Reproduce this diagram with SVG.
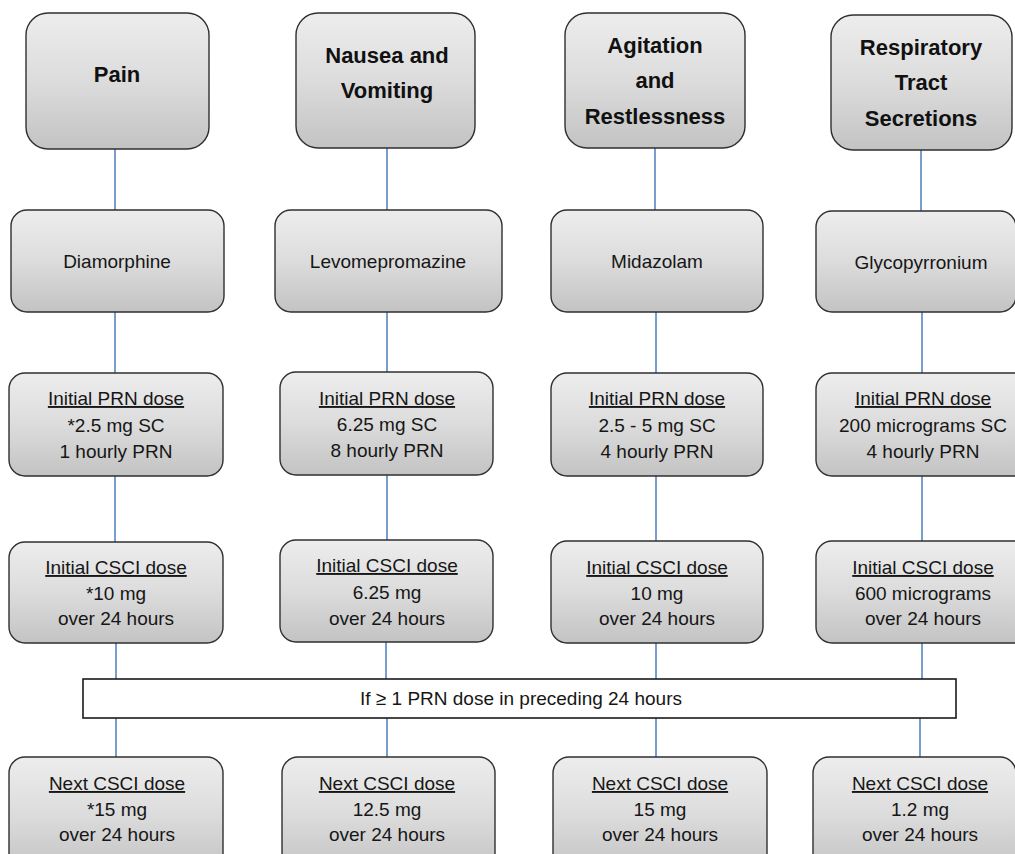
<svg xmlns="http://www.w3.org/2000/svg" width="1015" height="854" viewBox="0 0 1015 854">
<defs>
<linearGradient id="g" x1="0" y1="0" x2="0" y2="1">
<stop offset="0" stop-color="#ededed"/>
<stop offset="0.5" stop-color="#dcdcdc"/>
<stop offset="1" stop-color="#c3c3c3"/>
</linearGradient>
</defs>
<style>
.box{fill:url(#g);stroke:#2f2f2f;stroke-width:1.4}
.banner{fill:#ffffff;stroke:#1a1a1a;stroke-width:1.6}
.h{font-family:"Liberation Sans",Arial,sans-serif;font-weight:bold;font-size:22px;fill:#111;text-anchor:middle}
.t{font-family:"Liberation Sans",Arial,sans-serif;font-size:19px;fill:#161616;text-anchor:middle}
.u{text-decoration:underline}
.c{stroke:#4a7ebb;stroke-width:1.5;fill:none}
</style>
<rect width="1015" height="854" fill="#ffffff"/>
<g id="connectors">
<line class="c" x1="115" y1="149" x2="115" y2="210"/>
<line class="c" x1="115" y1="312" x2="115" y2="373"/>
<line class="c" x1="115" y1="476" x2="115" y2="542"/>
<line class="c" x1="116" y1="643" x2="116" y2="679"/>
<line class="c" x1="116" y1="718" x2="116" y2="757"/>
<line class="c" x1="387" y1="148" x2="387" y2="210"/>
<line class="c" x1="387" y1="312" x2="387" y2="372"/>
<line class="c" x1="387" y1="475" x2="387" y2="540"/>
<line class="c" x1="386" y1="642" x2="386" y2="679"/>
<line class="c" x1="387" y1="718" x2="387" y2="757"/>
<line class="c" x1="655" y1="148" x2="655" y2="210"/>
<line class="c" x1="656" y1="312" x2="656" y2="373"/>
<line class="c" x1="656" y1="476" x2="656" y2="541"/>
<line class="c" x1="656" y1="643" x2="656" y2="679"/>
<line class="c" x1="656" y1="718" x2="656" y2="757"/>
<line class="c" x1="921" y1="150" x2="921" y2="211"/>
<line class="c" x1="922" y1="312" x2="922" y2="373"/>
<line class="c" x1="922" y1="476" x2="922" y2="541"/>
<line class="c" x1="922" y1="643" x2="922" y2="679"/>
<line class="c" x1="920" y1="718" x2="920" y2="757"/>
</g>
<g id="pain">
<rect class="box" x="26" y="13" width="183" height="136" rx="22"/>
<text class="h" x="117" y="82">Pain</text>
</g>
<g id="nausea">
<rect class="box" x="296" y="13" width="179" height="135" rx="22"/>
<text class="h" x="387" y="63">Nausea and</text>
<text class="h" x="387" y="98">Vomiting</text>
</g>
<g id="agitation">
<rect class="box" x="565" y="13" width="180" height="135" rx="22"/>
<text class="h" x="655" y="53">Agitation</text>
<text class="h" x="655" y="88">and</text>
<text class="h" x="655" y="124">Restlessness</text>
</g>
<g id="respiratory">
<rect class="box" x="831" y="15" width="181" height="135" rx="22"/>
<text class="h" x="921" y="55">Respiratory</text>
<text class="h" x="921" y="90">Tract</text>
<text class="h" x="921" y="126">Secretions</text>
</g>
<g id="diamorphine">
<rect class="box" x="11" y="210" width="213" height="102" rx="16"/>
<text class="t" x="117" y="268">Diamorphine</text>
</g>
<g id="levomepromazine">
<rect class="box" x="275" y="210" width="227" height="102" rx="16"/>
<text class="t" x="388" y="268">Levomepromazine</text>
</g>
<g id="midazolam">
<rect class="box" x="551" y="210" width="212" height="102" rx="16"/>
<text class="t" x="657" y="268">Midazolam</text>
</g>
<g id="glycopyrronium">
<rect class="box" x="816" y="211" width="200" height="101" rx="16"/>
<text class="t" x="921" y="269">Glycopyrronium</text>
</g>
<g id="prn-pain">
<rect class="box" x="9" y="373" width="214" height="103" rx="16"/>
<text class="t u" x="116" y="405">Initial PRN dose</text>
<text class="t" x="116" y="432">*2.5 mg SC</text>
<text class="t" x="116" y="458">1 hourly PRN</text>
</g>
<g id="prn-nausea">
<rect class="box" x="280" y="372" width="213" height="103" rx="16"/>
<text class="t u" x="387" y="405">Initial PRN dose</text>
<text class="t" x="387" y="431">6.25 mg SC</text>
<text class="t" x="387" y="457">8 hourly PRN</text>
</g>
<g id="prn-agitation">
<rect class="box" x="551" y="373" width="212" height="103" rx="16"/>
<text class="t u" x="657" y="405">Initial PRN dose</text>
<text class="t" x="657" y="432">2.5 - 5 mg SC</text>
<text class="t" x="657" y="458">4 hourly PRN</text>
</g>
<g id="prn-respiratory">
<rect class="box" x="816" y="373" width="214" height="103" rx="16"/>
<text class="t u" x="923" y="405">Initial PRN dose</text>
<text class="t" x="923" y="432">200 micrograms SC</text>
<text class="t" x="923" y="458">4 hourly PRN</text>
</g>
<g id="csci-pain">
<rect class="box" x="9" y="542" width="214" height="101" rx="16"/>
<text class="t u" x="116" y="574">Initial CSCI dose</text>
<text class="t" x="116" y="600">*10 mg</text>
<text class="t" x="116" y="625">over 24 hours</text>
</g>
<g id="csci-nausea">
<rect class="box" x="280" y="540" width="213" height="102" rx="16"/>
<text class="t u" x="387" y="572">Initial CSCI dose</text>
<text class="t" x="387" y="599">6.25 mg</text>
<text class="t" x="387" y="625">over 24 hours</text>
</g>
<g id="csci-agitation">
<rect class="box" x="551" y="541" width="212" height="102" rx="16"/>
<text class="t u" x="657" y="574">Initial CSCI dose</text>
<text class="t" x="657" y="600">10 mg</text>
<text class="t" x="657" y="625">over 24 hours</text>
</g>
<g id="csci-respiratory">
<rect class="box" x="816" y="541" width="214" height="102" rx="16"/>
<text class="t u" x="923" y="574">Initial CSCI dose</text>
<text class="t" x="923" y="600">600 micrograms</text>
<text class="t" x="923" y="625">over 24 hours</text>
</g>
<g id="banner">
<rect class="banner" x="83" y="679" width="873" height="39"/>
<text class="t" x="521" y="705">If ≥ 1 PRN dose in preceding 24 hours</text>
</g>
<g id="next-pain">
<rect class="box" x="9" y="757" width="214" height="115" rx="16"/>
<text class="t u" x="117" y="790">Next CSCI dose</text>
<text class="t" x="117" y="816">*15 mg</text>
<text class="t" x="117" y="841">over 24 hours</text>
</g>
<g id="next-nausea">
<rect class="box" x="282" y="757" width="213" height="115" rx="16"/>
<text class="t u" x="387" y="790">Next CSCI dose</text>
<text class="t" x="387" y="816">12.5 mg</text>
<text class="t" x="387" y="841">over 24 hours</text>
</g>
<g id="next-agitation">
<rect class="box" x="553" y="757" width="214" height="115" rx="16"/>
<text class="t u" x="660" y="790">Next CSCI dose</text>
<text class="t" x="660" y="816">15 mg</text>
<text class="t" x="660" y="841">over 24 hours</text>
</g>
<g id="next-respiratory">
<rect class="box" x="813" y="757" width="203" height="115" rx="16"/>
<text class="t u" x="920" y="790">Next CSCI dose</text>
<text class="t" x="920" y="816">1.2 mg</text>
<text class="t" x="920" y="841">over 24 hours</text>
</g>
</svg>
